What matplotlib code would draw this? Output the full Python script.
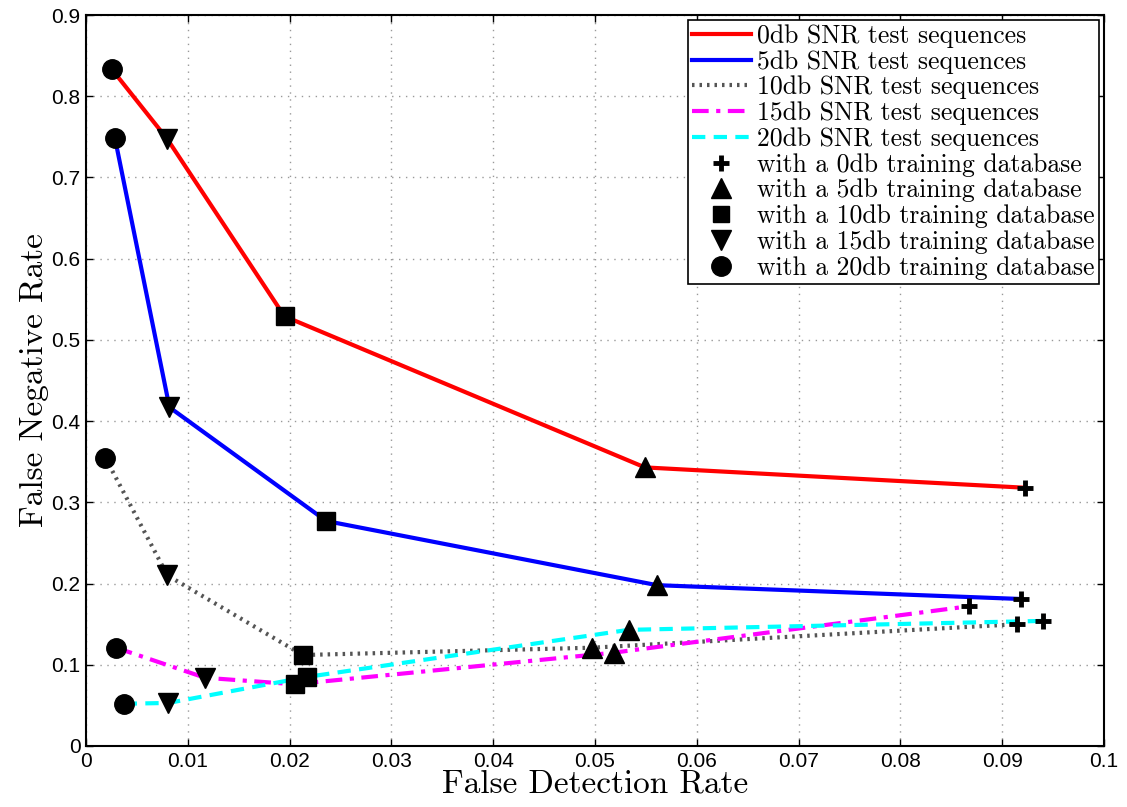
import matplotlib
matplotlib.use("Agg")
import matplotlib.pyplot as plt
from matplotlib.lines import Line2D

# False detection rate (x) / false negative rate (y) per test SNR.
# Point order: trained on 20db, 15db, 10db, 5db, 0db
fdr_0db = [0.00255, 0.0080, 0.0195, 0.0549, 0.0922]
fnr_0db = [0.833, 0.747, 0.529, 0.343, 0.318]
fdr_5db = [0.00285, 0.0082, 0.0236, 0.0561, 0.0918]
fnr_5db = [0.748, 0.417, 0.277, 0.198, 0.181]
fdr_10db = [0.0019, 0.0080, 0.0213, 0.0497, 0.0915]
fnr_10db = [0.355, 0.210, 0.112, 0.121, 0.150]
fdr_15db = [0.00295, 0.0117, 0.0205, 0.0519, 0.0867]
fnr_15db = [0.121, 0.084, 0.076, 0.115, 0.172]
fdr_20db = [0.0037, 0.0081, 0.0217, 0.0533, 0.0940]
fnr_20db = [0.052, 0.053, 0.085, 0.143, 0.154]

series_labels = ["0db SNR test sequences", "5db SNR test sequences",
                 "10db SNR test sequences", "15db SNR test sequences",
                 "20db SNR test sequences"]
marker_labels = ["with a 20db training database", "with a 15db training database",
                 "with a 10db training database", "with a 5db training database",
                 "with a 0db training database"]

serif = ["cmr10", "DejaVu Serif"]
plt.rcParams["axes.formatter.use_mathtext"] = True

fig = plt.figure(figsize=(11.27, 8.07), dpi=100)
ax = fig.add_axes([0.0763, 0.0756, 0.9033, 0.9058])

xs = [fdr_0db, fdr_5db, fdr_10db, fdr_15db, fdr_20db]
ys = [fnr_0db, fnr_5db, fnr_10db, fnr_15db, fnr_20db]
styles = [dict(color="#ff0000", ls="-", lw=3.0),
          dict(color="#0000ff", ls="-", lw=3.0),
          dict(color="#555555", ls=(0, (0.6, 1.2)), lw=3.0),
          dict(color="#ff00ff", ls=(0, (4, 1.8, 1, 1.8)), lw=3.0),
          dict(color="#00ffff", ls=(0, (3.2, 2)), lw=3.0)]

handles = []
for x, y, st, lab in zip(xs, ys, styles, series_labels):
    h, = ax.plot(x, y, label=lab, zorder=2, **st)
    handles.append(h)

markers = ["o", "v", "s", "^", "P"]
msizes = [14, 15, 13, 15, 12]
for i, (m, ms) in enumerate(zip(markers, msizes)):
    mx = [x[i] for x in xs]
    my = [y[i] for y in ys]
    if m == "P":
        ax.plot(mx, my, ls="none", marker="+", ms=ms, mew=3.5, color="black", zorder=3)
    else:
        ax.plot(mx, my, ls="none", marker=m, ms=ms, color="black", zorder=3)

mk_handles = []
for m, lab in zip(["+", "^", "s", "v", "o"], marker_labels[::-1]):
    if m == "+":
        mk_handles.append(Line2D([], [], ls="none", marker="+", ms=12, mew=3.5,
                                 color="black", label=lab))
    else:
        mk_handles.append(Line2D([], [], ls="none", marker=m,
                                 ms=15 if m in "^v" else (12 if m == "s" else 14),
                                 color="black", label=lab))

ax.set_xlim(0, 0.1)
ax.set_ylim(0, 0.9)
ax.set_xticks([i / 100 for i in range(11)])
ax.set_xticklabels(["0", "0.01", "0.02", "0.03", "0.04", "0.05", "0.06", "0.07",
                    "0.08", "0.09", "0.1"])
ax.set_yticks([i / 10 for i in range(10)])
ax.set_yticklabels(["0", "0.1", "0.2", "0.3", "0.4", "0.5", "0.6", "0.7", "0.8", "0.9"])
ax.tick_params(labelsize=15, direction="in", length=5, width=1,
               top=True, right=True, pad=4)
for t in ax.get_xticklabels() + ax.get_yticklabels():
    t.set_family(["Liberation Sans", "DejaVu Sans"])
ax.grid(True, ls=(0, (1, 4)), color="#999999", lw=1)
for s in ax.spines.values():
    s.set_linewidth(1.5)

ax.set_xlabel("False Detection Rate", fontsize=24, family=serif, labelpad=-1)
ax.set_ylabel("False Negative Rate", fontsize=24, family=serif, labelpad=2)

leg = ax.legend(handles=handles + mk_handles, loc="upper right",
                prop=dict(family=serif, size=18.5), handlelength=2.3,
                handletextpad=0.25, labelspacing=0.08, borderpad=0.15,
                borderaxespad=0.2, fancybox=False, framealpha=1,
                edgecolor="black")
leg.get_frame().set_linewidth(1.2)

fig.savefig("out.png", dpi=100)
